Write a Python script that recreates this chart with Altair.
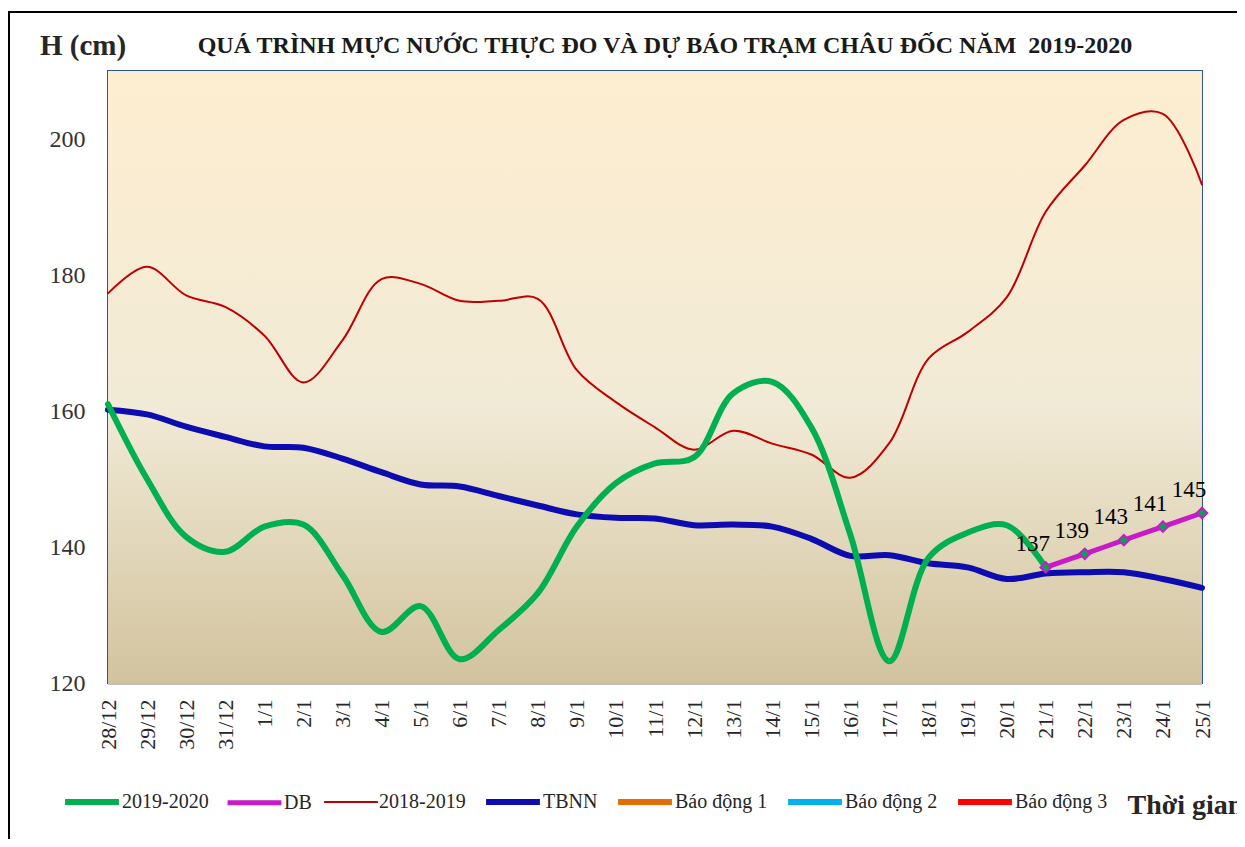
import altair as alt
import pandas as pd

# ---------------- data ----------------
dates = ["28/12", "29/12", "30/12", "31/12", "1/1", "2/1", "3/1", "4/1", "5/1", "6/1",
         "7/1", "8/1", "9/1", "10/1", "11/1", "12/1", "13/1", "14/1", "15/1", "16/1",
         "17/1", "18/1", "19/1", "20/1", "21/1", "22/1", "23/1", "24/1", "25/1"]

obs_2019_2020 = [161, 150, 141.5, 139.3, 143, 143.3, 135.9, 127.5, 131.3, 123.5,
                 127.8, 133.2, 143, 149.4, 152.3, 153.2, 162.6, 164.3, 157.6, 141.8,
                 123.2, 138.4, 142.1, 143.2, 137]

obs_2018_2019 = [177.3, 181.2, 177, 175.3, 171.1, 164.2, 170.4, 179.4, 178.7, 176.2,
                 176.2, 176.5, 166, 161.3, 157.6, 154.3, 157.1, 155.2, 153.6, 150.2,
                 155.3, 167.7, 171.6, 176.7, 189.3, 196.1, 202.8, 203.7, 193.3]

tbnn = [160.2, 159.5, 157.7, 156.2, 154.8, 154.6, 153, 151, 149.2, 148.9,
        147.5, 146.1, 144.8, 144.3, 144.2, 143.2, 143.3, 143, 141.2, 138.7,
        138.8, 137.6, 137, 135.3, 136.1, 136.3, 136.3, 135.3, 134]

db_dates = ["21/1", "22/1", "23/1", "24/1", "25/1"]
db_values = [137, 139, 141, 143, 145]
db_labels = ["137", "139", "143", "141", "145"]

series_names = ["2019-2020", "DB", "2018-2019", "TBNN", "Báo động 1", "Báo động 2", "Báo động 3"]
series_colors = ["#00B050", "#C71BC7", "#C00000", "#0C0CB0", "#E46C0A", "#00B0F0", "#FF0000"]
series_widths = [6, 5, 2, 6, 6, 6, 6]

title_text = "QUÁ TRÌNH MỰC NƯỚC THỰC ĐO VÀ DỰ BÁO TRẠM CHÂU ĐỐC NĂM\u00a0 2019-2020"
y_title_text = "H (cm)"
x_title_text = "Thời gian"

# ---------------- tables ----------------
rows = []
for d, v in zip(dates, obs_2019_2020):
    rows.append({"date": d, "value": v, "series": "2019-2020"})
for d, v in zip(dates, obs_2018_2019):
    rows.append({"date": d, "value": v, "series": "2018-2019"})
for d, v in zip(dates, tbnn):
    rows.append({"date": d, "value": v, "series": "TBNN"})
for d, v, lab in zip(db_dates, db_values, db_labels):
    rows.append({"date": d, "value": v, "series": "DB", "label": lab})
df = pd.DataFrame(rows)

W, H = 1094, 612
SERIF = "Liberation Serif"

legend_props = dict(
    orient="none", legendX=-46, legendY=701, direction="horizontal",
    title=None, symbolType="stroke", symbolSize=2900,
    labelFont=SERIF, labelFontSize=20, labelColor="#262626",
    columnPadding=8, labelOffset=0, labelLimit=300,
)

color_enc = alt.Color(
    "series:N",
    scale=alt.Scale(domain=series_names, range=series_colors),
    legend=alt.Legend(**legend_props),
)
width_enc = alt.StrokeWidth(
    "series:N",
    scale=alt.Scale(type="ordinal", domain=series_names, range=series_widths),
    legend=alt.Legend(**legend_props),
)

x_enc = alt.X(
    "date:N",
    sort=dates,
    scale=alt.Scale(type="point", domain=dates, padding=0),
    axis=alt.Axis(
        labelAngle=-90, labelFont=SERIF, labelFontSize=22, labelColor="#262626",
        ticks=False, domain=False, labelPadding=16,
        title=x_title_text, titleX=1019, titleY=130, titleAlign="left",
        titleBaseline="alphabetic", titleAngle=0, titleFont=SERIF,
        titleFontSize=28, titleFontWeight="bold", titleColor="#262626",
    ),
)
y_enc = alt.Y(
    "value:Q",
    scale=alt.Scale(domain=[120, 210], nice=False, zero=False),
    axis=alt.Axis(
        values=[120, 140, 160, 180, 200], grid=False, ticks=False, domain=False,
        labelPadding=23, labelFont=SERIF, labelFontSize=24, labelColor="#333333",
        title=None,
    ),
)

base = alt.Chart(df).encode(x=x_enc, y=y_enc)

one = alt.Data(values=[{"k": 1}])

background = alt.Chart(one).mark_rect(
    color=alt.Gradient(
        gradient="linear", x1=0, y1=0, x2=0, y2=1,
        stops=[alt.GradientStop(offset=0, color="#FEEED0"),
               alt.GradientStop(offset=0.55, color="#F1EAD6"),
               alt.GradientStop(offset=1, color="#D2C39E")],
    )
).encode(x=alt.value(0), x2=alt.value(W), y=alt.value(0), y2=alt.value(H))

def line_layer(name):
    return base.transform_filter(alt.datum.series == name).mark_line(
        interpolate="catmull-rom", strokeCap="round", strokeJoin="round"
    ).encode(color=color_enc, strokeWidth=width_enc)

red = line_layer("2018-2019")
blue = line_layer("TBNN")
green = line_layer("2019-2020")
db = line_layer("DB")

db_pts = base.transform_filter(alt.datum.series == "DB").mark_point(
    shape="diamond", filled=True, fill="#00A651", stroke="#C71BC7",
    strokeWidth=2, size=110, opacity=1
)
db_text = base.transform_filter(alt.datum.series == "DB").mark_text(
    dx=-13, dy=-23, font=SERIF, fontSize=23, color="#000000"
).encode(text="label:N")

bottom_rule = alt.Chart(one).mark_rule(color="#BFBFBF", strokeWidth=2).encode(
    x=alt.value(0), x2=alt.value(W), y=alt.value(H + 1)
)

frame_top = alt.Chart(one).mark_rule(color="#000000", strokeWidth=2).encode(
    x=alt.value(-100), x2=alt.value(1140), y=alt.value(-59)
)
frame_left = alt.Chart(one).mark_rule(color="#000000", strokeWidth=2).encode(
    x=alt.value(-99), y=alt.value(-59), y2=alt.value(780)
)

title_mark = alt.Chart(one).mark_text(
    font=SERIF, fontSize=24, fontWeight="bold", align="center", baseline="alphabetic",
    color="#1a1a1a"
).encode(x=alt.value(557), y=alt.value(-18), text=alt.value(title_text))

ytitle_mark = alt.Chart(one).mark_text(
    font=SERIF, fontSize=29, fontWeight="bold", align="left", baseline="alphabetic",
    color="#262626"
).encode(x=alt.value(-68), y=alt.value(-16), text=alt.value(y_title_text))

chart = alt.layer(
    background, red, blue, green, db, db_pts, db_text, bottom_rule,
    frame_top, frame_left, title_mark, ytitle_mark
).properties(
    width=W, height=H,
    autosize=alt.AutoSizeParams(type="none"),
    padding={"left": 100, "top": 63, "right": 35, "bottom": 156},
    background="#FFFFFF",
).configure_view(
    stroke="#2E5597", strokeWidth=2
)

chart.save("out.html", embed_options={"renderer": "svg", "actions": False})
